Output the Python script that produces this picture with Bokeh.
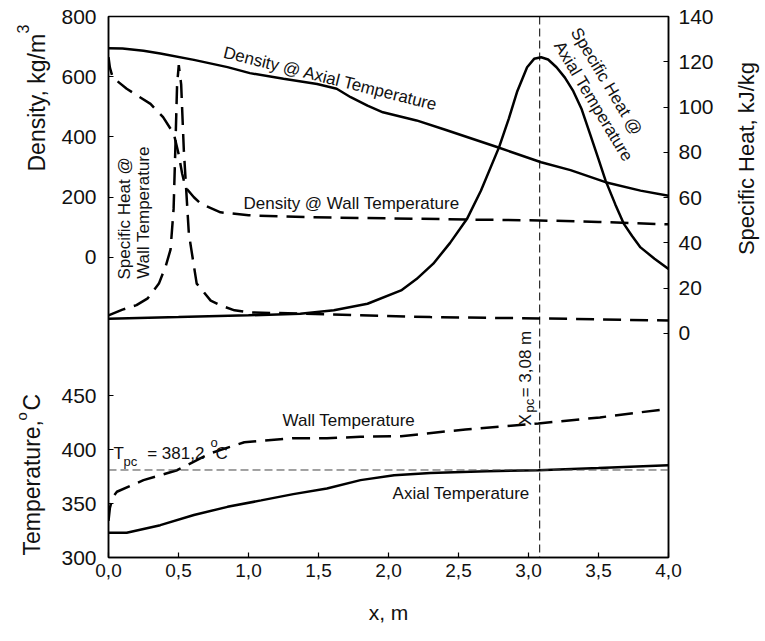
import numpy as np
from bokeh.plotting import figure
from bokeh.layouts import row
from bokeh.models import (Range1d, LinearAxis, FixedTicker, Span, Label,
                          CustomJSTickFormatter)
from bokeh.core.properties import value
from bokeh.embed import file_html
from bokeh.resources import INLINE

# ---------------- data ----------------
# Density @ Axial Temperature (kg/m3)
x_rho_ax = [0, 0.1, 0.25, 0.37, 0.61, 0.85, 1.01, 1.25, 1.49, 1.63, 1.73, 1.85,
            1.96, 2.2, 2.4, 2.78, 3.09, 3.3, 3.55, 3.8, 4.0]
rho_ax = [695, 694, 686, 677, 656, 632, 612, 593, 576, 560, 532, 504,
          482, 455, 425, 366, 316, 290, 250, 222, 205]

# Density @ Wall Temperature (kg/m3)
x_rho_w = [0, 0.01, 0.03, 0.13, 0.3, 0.39, 0.467, 0.5, 0.526, 0.55, 0.61, 0.66,
           0.8, 1.0, 1.4, 2.0, 2.56, 3.08, 3.5, 4.0]
rho_w = [665, 630, 598, 560, 510, 466, 410, 345, 279, 233, 200, 178,
         150, 140, 134, 130, 126, 123, 118, 110]

# Specific Heat @ Axial Temperature (kJ/kg)
x_cp_ax = [0, 0.5, 1.0, 1.37, 1.61, 1.85, 2.09, 2.2, 2.32, 2.44, 2.56, 2.66,
           2.79, 2.86, 2.92, 2.99, 3.04, 3.09, 3.14, 3.2, 3.26, 3.32, 3.38,
           3.44, 3.5, 3.55, 3.62, 3.68, 3.74, 3.8, 3.9, 4.0]
cp_ax = [6.5, 7.2, 8.0, 8.7, 10.2, 13.1, 19, 24, 30.8, 40, 50.5, 63,
         82.3, 95, 107, 117.6, 121.3, 122, 121, 117.6, 113, 107, 99,
         88, 77, 67.6, 57, 48.5, 43, 38, 33, 28.5]

# Specific Heat @ Wall Temperature (kJ/kg)
x_cp_w = [0, 0.1, 0.2, 0.28, 0.36, 0.41, 0.443, 0.465, 0.479, 0.49, 0.502,
          0.519, 0.538, 0.574, 0.63, 0.73, 0.8, 0.9, 1.0, 1.4, 2.3, 3.1, 4.0]
cp_w = [8, 10.5, 12.5, 15.5, 22, 30, 37, 55, 85, 110, 118.5,
        110, 81, 44, 22, 14.5, 12.4, 10.2, 9.3, 8.7, 7.2, 6.6, 5.7]

# Axial Temperature (C)
x_t_ax = [0, 0.13, 0.37, 0.61, 0.85, 1.09, 1.32, 1.56, 1.8, 2.04, 2.3, 2.7,
          3.07, 3.5, 4.0]
t_ax = [323, 323, 330, 339.4, 347, 353, 358.8, 364, 371.8, 376.4, 378.5, 380,
        381, 383, 385.7]

# Wall Temperature (C)
x_t_w = [0, 0.01, 0.03, 0.06, 0.25, 0.49, 0.73, 0.97, 1.32, 1.56, 1.8, 2.09,
         2.55, 3.07, 3.51, 4.0]
t_w = [334, 346, 356, 361, 371.8, 381, 396.8, 407, 410.7, 410.7, 412, 412.6,
       418.8, 424.4, 430, 438]

# pseudo-critical markers
x_pc = 3.08
t_pc = 381.2

# axis ticks
x_ticks = [0, 0.5, 1.0, 1.5, 2.0, 2.5, 3.0, 3.5, 4.0]
temp_ticks = [300, 350, 400, 450]
dens_ticks = [0, 200, 400, 600, 800]
cp_ticks = [0, 20, 40, 60, 80, 100, 120, 140]

# ---------------- ranges ----------------
T0, T1 = 300, 802
D0, D1 = -996, 800
C0, C1 = -99, 140

def d_to_t(d):
    return T0 + (d - D0) / (D1 - D0) * (T1 - T0)

FONT = "Liberation Sans"
TXT = "#111111"
TOP, FH, BOT = 16, 541, 80
LEFT_W = 56
RIGHT_W = 35

p = figure(frame_width=560, frame_height=FH,
           min_border_left=52, min_border_right=60,
           min_border_top=TOP, min_border_bottom=BOT,
           x_range=Range1d(0, 4), y_range=Range1d(T0, T1),
           output_backend="svg", toolbar_location=None)
p.extra_y_ranges = {"dens": Range1d(D0, D1), "cp": Range1d(C0, C1)}
p.xgrid.visible = False
p.ygrid.visible = False
p.outline_line_color = "black"
p.outline_line_width = 1.5
p.background_fill_color = "white"
p.border_fill_color = "white"

# x axis
xa = p.xaxis[0]
xa.ticker = FixedTicker(ticks=x_ticks)
xa.formatter = CustomJSTickFormatter(code="return tick.toFixed(1).replace('.', ',');")
xa.axis_label = "x, m"
xa.axis_label_text_font = FONT
xa.axis_label_text_font_style = "normal"
xa.axis_label_text_font_size = "21px"
xa.axis_label_text_color = TXT
xa.axis_label_standoff = 21

# left axis (temperature + density ticks on one line)
ya = p.yaxis[0]
left_ticks = temp_ticks + [d_to_t(d) for d in dens_ticks]
ya.ticker = FixedTicker(ticks=left_ticks)
overrides = {float(t): str(t) for t in temp_ticks}
overrides.update({d_to_t(d): str(d) for d in dens_ticks})
ya.major_label_overrides = overrides

# right axis (specific heat)
ra = LinearAxis(y_range_name="cp", ticker=FixedTicker(ticks=cp_ticks))
p.add_layout(ra, "right")

for ax in (xa, ya, ra):
    ax.major_tick_in = 5
    ax.major_tick_out = 0
    ax.minor_tick_line_color = None
    ax.axis_line_width = 1.5
    ax.major_tick_line_width = 1.2
    ax.major_label_text_font = FONT
    ax.major_label_text_color = TXT
ya.major_label_text_font_size = "21px"
ra.major_label_text_font_size = "21px"
xa.major_label_text_font_size = "19px"
ya.major_label_standoff = 12
ra.major_label_standoff = 10
xa.major_label_standoff = 6

# ---------------- curves ----------------
LW = 2.5
DASH = "18 9"
p.line(x_rho_ax, rho_ax, y_range_name="dens", line_color="black", line_width=LW)
p.line(x_rho_w, rho_w, y_range_name="dens", line_color="black", line_width=LW,
       line_dash=DASH)
p.line(x_cp_ax, cp_ax, y_range_name="cp", line_color="black", line_width=LW)
p.line(x_cp_w, cp_w, y_range_name="cp", line_color="black", line_width=LW,
       line_dash=DASH)
p.line(x_t_ax, t_ax, line_color="black", line_width=LW)
p.line(x_t_w, t_w, line_color="black", line_width=LW, line_dash=DASH)

p.add_layout(Span(location=x_pc, dimension="height", line_color="black",
                  line_width=1, line_dash="8 4"))
p.add_layout(Span(location=t_pc, dimension="width", line_color="#444444",
                  line_width=1, line_dash="8 4"))

# ---------------- texts in the plot ----------------
def lab(text, x, y, size="17px", angle=0.0, align="left", baseline="alphabetic",
        rng=None):
    kw = dict(x=x, y=y, text=text, text_font=FONT, text_font_size=size,
              text_color=TXT, angle=angle, text_align=align,
              text_baseline=baseline)
    if rng is not None:
        kw["y_range_name"] = rng
    p.add_layout(Label(**kw))

deg = np.pi / 180
lab("Density @ Axial Temperature", 0.823, 682, angle=-14 * deg, rng="dens")
lab("Density @ Wall Temperature", 0.964, 178, rng="dens")
lab("Specific Heat @", 0.112, 50.8, angle=90 * deg, align="center", rng="cp")
lab("Wall Temperature", 0.252, 53.4, angle=90 * deg, align="center", rng="cp")
lab("Specific Heat @", 3.557, 111.3, angle=-59 * deg, align="center",
    baseline="middle", rng="cp")
lab("Axial Temperature", 3.464, 102.5, angle=-59 * deg, align="center",
    baseline="middle", rng="cp")
lab("Wall Temperature", 1.243, 427.2)
lab("Axial Temperature", 2.029, 359.4)

# T_pc = 381,2 oC
lab("T", 0.036, 396.5)
lab("pc", 0.107, 389.1, size="13px")
lab("= 381,2", 0.276, 396.5)
lab("o", 0.729, 406.8, size="13px")
lab("C", 0.764, 396.5)

# X_pc = 3,08 m (vertical)
lab("X", 2.978, 422.6, angle=90 * deg)
lab("pc", 3.010, 434.6, size="13px", angle=90 * deg)
lab("= 3,08 m", 2.978, 448.6, angle=90 * deg)

# ---------------- side strips holding the axis titles ----------------
def strip(w):
    s = figure(frame_width=w, frame_height=FH,
               x_range=Range1d(0, w), y_range=Range1d(TOP + FH, TOP),
               min_border_left=0, min_border_right=0,
               min_border_top=TOP, min_border_bottom=BOT,
               x_axis_location=None, y_axis_location=None,
               output_backend="svg", toolbar_location=None)
    s.xgrid.visible = False
    s.ygrid.visible = False
    s.outline_line_color = None
    s.background_fill_color = "white"
    s.border_fill_color = "white"
    return s

def stext(s, t, x, y, size, align="left"):
    s.text(x=[x], y=[y], text=[t], angle=np.pi / 2, text_align=align,
           text_baseline="alphabetic", text_font=value(FONT),
           text_font_size=value(size), text_color=TXT)

left = strip(LEFT_W)
stext(left, "Density, kg/m", 36, 171, "23px")
stext(left, "3", 22, 33, "16px")
stext(left, "Temperature,", 31, 555, "23px")
stext(left, "o", 20.5, 420, "15px")
stext(left, "C", 31, 410, "23px")

right = strip(RIGHT_W)
stext(right, "Specific Heat, kJ/kg", 17.5, 158, "22px", align="center")

layout = row(left, p, right)

html = file_html(layout, INLINE)
with open("out.html", "w") as f:
    f.write(html)
